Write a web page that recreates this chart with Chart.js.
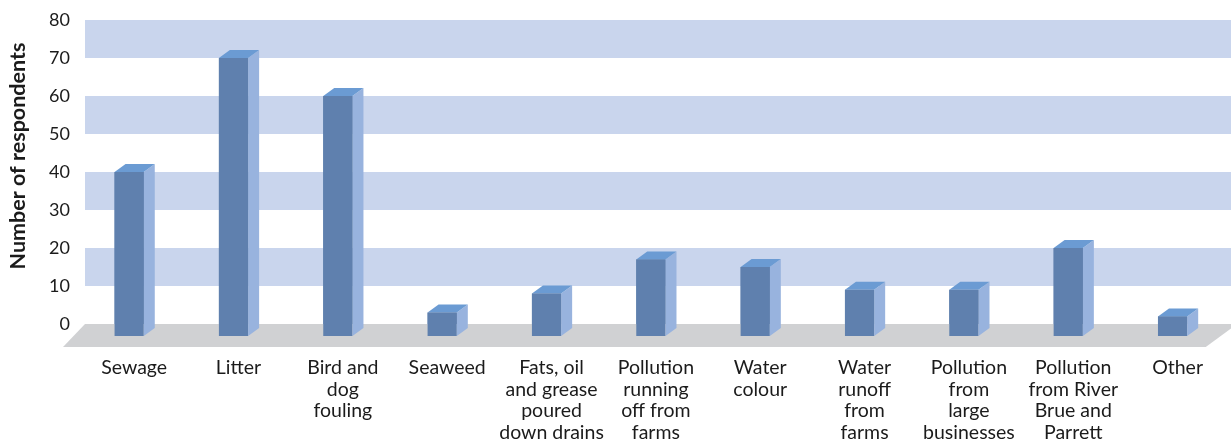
<!DOCTYPE html>
<html>
<head>
<meta charset="utf-8">
<script src="https://cdn.jsdelivr.net/npm/chart.js@4.4.1/dist/chart.umd.min.js"></script>
<style>
  html, body { margin: 0; padding: 0; background: #fff; }
  canvas { display: block; }
</style>
</head>
<body>
<canvas id="myChart" width="1231" height="439"></canvas>
<script>
// categories (multi-line labels) and number of respondents per concern
const categories = [
  ['Sewage'],
  ['Litter'],
  ['Bird and', 'dog', 'fouling'],
  ['Seaweed'],
  ['Fats, oil', 'and grease', 'poured', 'down drains'],
  ['Pollution', 'running', 'off from', 'farms'],
  ['Water', 'colour'],
  ['Water', 'runoff', 'from', 'farms'],
  ['Pollution', 'from', 'large', 'businesses'],
  ['Pollution', 'from River', 'Brue and', 'Parrett'],
  ['Other']
];
const respondents = [40, 70, 60, 3, 8, 17, 15, 9, 9, 20, 2];
const yMin = 0, yMax = 80, yStep = 10;
// shaded stripes on the back wall (value ranges)
const wallBands = [[10, 20], [30, 40], [50, 60], [70, 80]];

const frontColor = '#5f80ae';
const sideColor = '#98b3de';
const topColor = '#6b9bd3';
const bandColor = '#c9d5ed';
const floorColor = '#d0d1d3';
const textColor = '#1b1b1b';

// fake 3D: back wall stripes, floor, bar side and top faces
const depth3d = {
  id: 'depth3d',
  beforeDatasetsDraw(chart) {
    const { ctx, chartArea: a, scales: { y } } = chart;
    ctx.save();
    ctx.fillStyle = bandColor;
    wallBands.forEach(([lo, hi]) => {
      const t = y.getPixelForValue(hi), b = y.getPixelForValue(lo);
      ctx.fillRect(a.left + 8, t, chart.width - a.left - 8, b - t);
    });

    ctx.fillStyle = floorColor;
    ctx.beginPath();
    ctx.moveTo(a.left + 8, a.bottom);
    ctx.lineTo(chart.width + 6, a.bottom);
    ctx.lineTo(a.right - 19, a.bottom + 23);
    ctx.lineTo(a.left - 14, a.bottom + 23);
    ctx.closePath();
    ctx.fill();

    const dx = 11, dy = 8;
    const foot = a.bottom + 12;
    chart.getDatasetMeta(0).data.forEach(bar => {
      const { x, y: top, width } = bar.getProps(['x', 'y', 'width'], true);
      const l = x - width / 2, r = x + width / 2;
      // front face continues down onto the floor
      ctx.fillStyle = frontColor;
      ctx.fillRect(l, top, width, foot - top);
      // right side
      ctx.fillStyle = sideColor;
      ctx.beginPath();
      ctx.moveTo(r, top);
      ctx.lineTo(r + dx, top - dy);
      ctx.lineTo(r + dx, foot - dy);
      ctx.lineTo(r, foot);
      ctx.closePath();
      ctx.fill();
      // top
      ctx.fillStyle = topColor;
      ctx.beginPath();
      ctx.moveTo(l, top);
      ctx.lineTo(r, top);
      ctx.lineTo(r + dx, top - dy);
      ctx.lineTo(l + dx, top - dy);
      ctx.closePath();
      ctx.fill();
    });
    ctx.restore();
  },
  afterDraw(chart) {
    const ctx = chart.ctx;
    ctx.save();
    ctx.translate(18, 156);
    ctx.rotate(-Math.PI / 2);
    ctx.font = 'bold 21.5px Lato';
    ctx.fillStyle = textColor;
    ctx.textAlign = 'center';
    ctx.textBaseline = 'middle';
    ctx.fillText('Number of respondents', 0, 0);
    ctx.restore();
  }
};

const ctx = document.getElementById('myChart').getContext('2d');
const myChart = new Chart(ctx, {
  type: 'bar',
  data: {
    labels: categories,
    datasets: [{
      data: respondents,
      backgroundColor: frontColor,
      borderWidth: 0,
      barPercentage: 1,
      categoryPercentage: 0.28
    }]
  },
  plugins: [depth3d],
  options: {
    responsive: false,
    animation: false,
    layout: { padding: { top: 20, right: 0, left: 0, bottom: 0 } },
    plugins: { legend: { display: false }, tooltip: { enabled: false } },
    scales: {
      x: {
        grid: { display: false, drawTicks: false },
        border: { display: false },
        ticks: {
          color: textColor,
          font: { family: 'Lato', size: 19.5, lineHeight: '21.5px' },
          padding: 33,
          labelOffset: 5,
          maxRotation: 0,
          autoSkip: false
        },
        afterFit: s => { s.height = 115; }
      },
      y: {
        min: yMin,
        max: yMax,
        grid: { display: false, drawTicks: false },
        border: { display: false },
        ticks: {
          stepSize: yStep,
          color: textColor,
          font: { family: 'Lato', size: 18 },
          padding: 7
        },
        afterFit: s => { s.width = 77; }
      }
    }
  }
});
</script>
</body>
</html>
